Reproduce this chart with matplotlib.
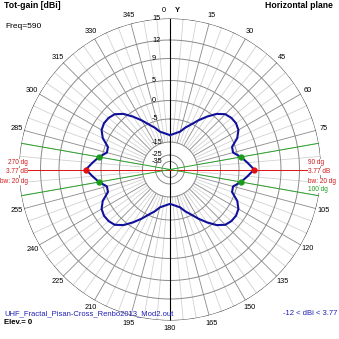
import numpy as np
import matplotlib.pyplot as plt
from matplotlib.transforms import offset_copy

plt.rcParams['font.family'] = ['Liberation Sans', 'DejaVu Sans']

# azimuth in degrees (clockwise from Y) and total gain in dBi
azimuth = list(range(0, 360, 5))
gain = [-12.0, -11.5, -10.8, -9.9, -7.6, -5.4, -3.3, -1.2, 0.9, 2.3,
        2.8, 2.9, 2.5, 1.3, -0.8, -1.0, 0.77, 2.2,
        3.77, 2.2, 0.77, -1.0, -0.8, 1.3, 2.5, 2.9, 2.8, 2.3,
        0.9, -1.2, -3.3, -5.4, -7.6, -9.9, -10.8, -11.5,
        -12.0, -11.5, -10.8, -9.9, -7.6, -5.4, -3.3, -1.2, 0.9, 2.3,
        2.8, 2.9, 2.5, 1.3, -0.8, -1.0, 0.77, 2.2,
        3.77, 2.2, 0.77, -1.0, -0.8, 1.3, 2.5, 2.9, 2.8, 2.3,
        0.9, -1.2, -3.3, -5.4, -7.6, -9.9, -10.8, -11.5]

max_dir = [90, 270]
max_gain = 3.77
min_gain = -12
bw_dir = [80, 100, 260, 280]
bw_gain = 0.77
beamwidth = 20
ring_db = [15, 12, 9, 5, 0, -5, -15, -25, -35]
# 90 and 270 sit under the max-direction notes, so they are left out
angle_ticks = [a for a in range(15, 360, 15) if a not in (90, 270)]

# 4nec2 style log scale: dB -> radius (outer ring = 1)
scale_db = [-45, -35, -25, -15, -5, 0, 5, 9, 12, 15]
scale_px = [0, 8, 14.5, 27.5, 50.5, 69, 89, 111, 129.5, 151]


def rad(db):
    return np.interp(db, scale_db, scale_px) / 151.0


fig = plt.figure(figsize=(3.39, 3.39), dpi=100)
ax = fig.add_axes([19 / 339, 18.5 / 339, 302 / 339, 302 / 339], projection='polar')
ax.set_theta_zero_location('N')
ax.set_theta_direction(-1)
ax.set_ylim(0, 1)
ax.axis('off')

# rings
th = np.linspace(0, 2 * np.pi, 721)
for v in ring_db:
    col = '#3a3a3a' if v == ring_db[0] else '#8a8a8a'
    ax.plot(th, np.full_like(th, rad(v)), color=col, lw=0.7, zorder=1)

# spokes
for a in range(0, 360, 5):
    if a % 90 == 0:
        continue
    col = '#8a8a8a' if a % 15 == 0 else '#d2d2d2'
    ax.plot([np.radians(a)] * 2, [rad(-15), 1], color=col, lw=0.6, zorder=0.5)

# Y axis (black), max direction (red), beamwidth (green)
for a in [0, 180]:
    ax.plot([np.radians(a)] * 2, [0, 1], color='black', lw=0.8, zorder=2)
for a in max_dir:
    ax.plot([np.radians(a)] * 2, [0, 1], color='#e01010', lw=0.7, zorder=2)
for a in bw_dir:
    ax.plot([np.radians(a)] * 2, [0, 1], color='#2aa02a', lw=0.7, zorder=2)

# pattern
az = np.radians(azimuth + [360])
g = np.array(gain + [gain[0]])
ax.plot(az, rad(g), color='#10109a', lw=1.5, zorder=3)
ax.plot(np.radians(max_dir), [rad(max_gain)] * 2, 'o', color='#e01010', ms=3.5, zorder=4)
ax.plot(np.radians(bw_dir), [rad(bw_gain)] * 4, 'o', color='#1a9a1a', ms=3.5, zorder=4)

# angle labels
for a in angle_ticks:
    ax.text(np.radians(a), 159 / 151, str(a), ha='center', va='center',
            fontsize=5.3, zorder=1)
ax.text(np.radians(-2.3), 159 / 151, '0', ha='center', va='center', fontsize=5.3)
ax.text(np.radians(2.8), 159 / 151, 'Y', ha='center', va='center', fontsize=5.5,
        fontweight='bold')

# dB labels on the vertical axis
tr = offset_copy(ax.transData, fig=fig, x=-18, y=0, units='dots')
for v in ring_db:
    ax.text(0, rad(v), str(v), transform=tr, ha='left', va='center',
            fontsize=5.3, zorder=2)

# max / beamwidth annotations
box = dict(facecolor='white', edgecolor='none', pad=0.2)
red = '#d01818'
right = [(f'{max_dir[0]} dg', 162.7, red), (f'{max_gain} dB', 171.5, red),
         (f'bw: {beamwidth} dg', 181.5, red), (f'{bw_dir[1]} dg', 189.5, '#1a9a1a')]
for s, y, c in right:
    fig.text(308 / 339, 1 - y / 339, s, ha='left', va='center', fontsize=4.7,
             color=c, bbox=box, zorder=5)
left = [(f'{max_dir[1]} dg', 162.7), (f'{max_gain} dB', 171.5),
        (f'bw: {beamwidth} dg', 181.5)]
for s, y in left:
    fig.text(28 / 339, 1 - y / 339, s, ha='right', va='center', fontsize=4.7,
             color=red, bbox=box, zorder=5)

# header / footer
fig.text(4 / 339, 1 - 6 / 339, 'Tot-gain [dBi]', ha='left', va='center',
         fontsize=6.3, fontweight='bold')
fig.text(5 / 339, 1 - 26 / 339, 'Freq=590', ha='left', va='center', fontsize=6)
fig.text(333 / 339, 1 - 6 / 339, 'Horizontal plane', ha='right', va='center',
         fontsize=6.2, fontweight='bold')
fig.text(4 / 339, 1 - 313.5 / 339, 'UHF_Fractal_Pisan-Cross_Renbo2013_Mod2.out',
         ha='left', va='center', fontsize=5.5, color='#2020b8')
fig.text(4 / 339, 1 - 322.5 / 339, 'Elev.= 0', ha='left', va='center',
         fontsize=5.6, fontweight='bold')
fig.text(337 / 339, 1 - 313.5 / 339, f'{min_gain} < dBi < {max_gain}',
         ha='right', va='center', fontsize=5.5, color='#2020b8')

fig.savefig('out.png', dpi=100)
